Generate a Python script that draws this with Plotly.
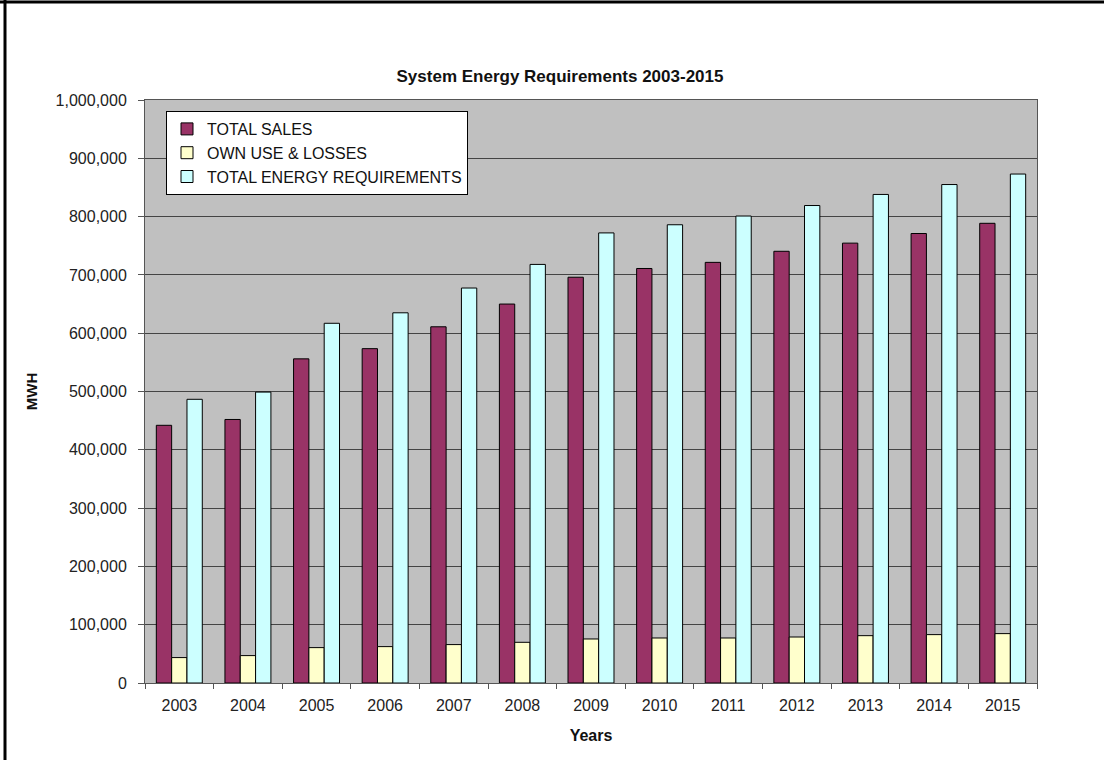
import plotly.graph_objects as go

years = ["2003", "2004", "2005", "2006", "2007", "2008", "2009",
         "2010", "2011", "2012", "2013", "2014", "2015"]
total_sales = [442000, 452000, 556000, 573500, 611000, 650000, 696000,
               711000, 721500, 740500, 754500, 771000, 788500]
own_use_losses = [43600, 47000, 60700, 62400, 65900, 69800, 75500,
                  77200, 77200, 78900, 81200, 83000, 84700]
total_energy = [486600, 499000, 617000, 635000, 677500, 718000, 772000,
                786000, 801000, 819000, 838000, 855000, 873000]
y_ticks = [0, 100000, 200000, 300000, 400000, 500000, 600000, 700000,
           800000, 900000, 1000000]

W, H = 1104, 760
L, R, T, B = 145, 1037, 100, 683  # plot area pixel box
pw, ph = R - L, B - T


def px(x):
    return (x - L) / pw


def py(y):
    return (B - y) / ph


FONT = "Liberation Sans, Arial, sans-serif"
line = dict(color="black", width=1)

fig = go.Figure()
fig.add_trace(go.Bar(x=years, y=total_sales, name="TOTAL SALES",
                     marker=dict(color="#993366", line=line)))
fig.add_trace(go.Bar(x=years, y=own_use_losses, name="OWN USE & LOSSES",
                     marker=dict(color="#FFFFCC", line=line)))
fig.add_trace(go.Bar(x=years, y=total_energy, name="TOTAL ENERGY REQUIREMENTS",
                     marker=dict(color="#CCFFFF", line=line)))

fig.update_layout(
    width=W, height=H,
    margin=dict(l=L, r=W - R, t=T, b=H - B, pad=0),
    paper_bgcolor="white",
    plot_bgcolor="#C0C0C0",
    font=dict(family=FONT, size=16, color="#222222"),
    barmode="group",
    bargap=0.33,
    bargroupgap=0,
    showlegend=True,
    legend=dict(
        x=px(166), y=py(111), xanchor="left", yanchor="top",
        bgcolor="white", bordercolor="black", borderwidth=1,
        font=dict(family=FONT, size=16, color="#111111"),
        itemwidth=30, tracegroupgap=0,
    ),
    title=dict(
        text="<b>System Energy Requirements 2003-2015</b>",
        x=560 / W, xref="container", xanchor="center",
        y=1 - 76 / H, yref="container", yanchor="middle",
        font=dict(family=FONT, size=17, color="#111111"),
    ),
    xaxis=dict(
        type="category",
        showgrid=False,
        showline=True, linecolor="#555555", linewidth=1, mirror=True,
        ticks="outside", ticklen=5, tickcolor="#555555",
        tickson="boundaries",
        ticklabelstandoff=8,
        tickfont=dict(size=16, color="#222222"),
        title=dict(text="<b>Years</b>", font=dict(size=16, color="#111111"),
                   standoff=16),
    ),
    yaxis=dict(
        range=[0, 1000000],
        tickvals=y_ticks,
        tickformat=",d",
        showgrid=True, gridcolor="#444444", gridwidth=1,
        zeroline=False,
        showline=True, linecolor="#555555", linewidth=1, mirror=True,
        ticks="outside", ticklen=6, tickcolor="#555555",
        ticklabelstandoff=8,
        tickfont=dict(size=16, color="#222222"),
        title=dict(text="<b>MWH</b>", font=dict(size=15, color="#111111"),
                   standoff=14),
    ),
    shapes=[
        dict(type="line", xref="paper", yref="paper",
             x0=px(5), x1=px(5), y0=py(H + 5), y1=py(-5),
             line=dict(color="black", width=3)),
        dict(type="line", xref="paper", yref="paper",
             x0=px(-5), x1=px(W + 5), y0=py(2), y1=py(2),
             line=dict(color="black", width=3)),
    ],
)

fig.write_html("out.html")
